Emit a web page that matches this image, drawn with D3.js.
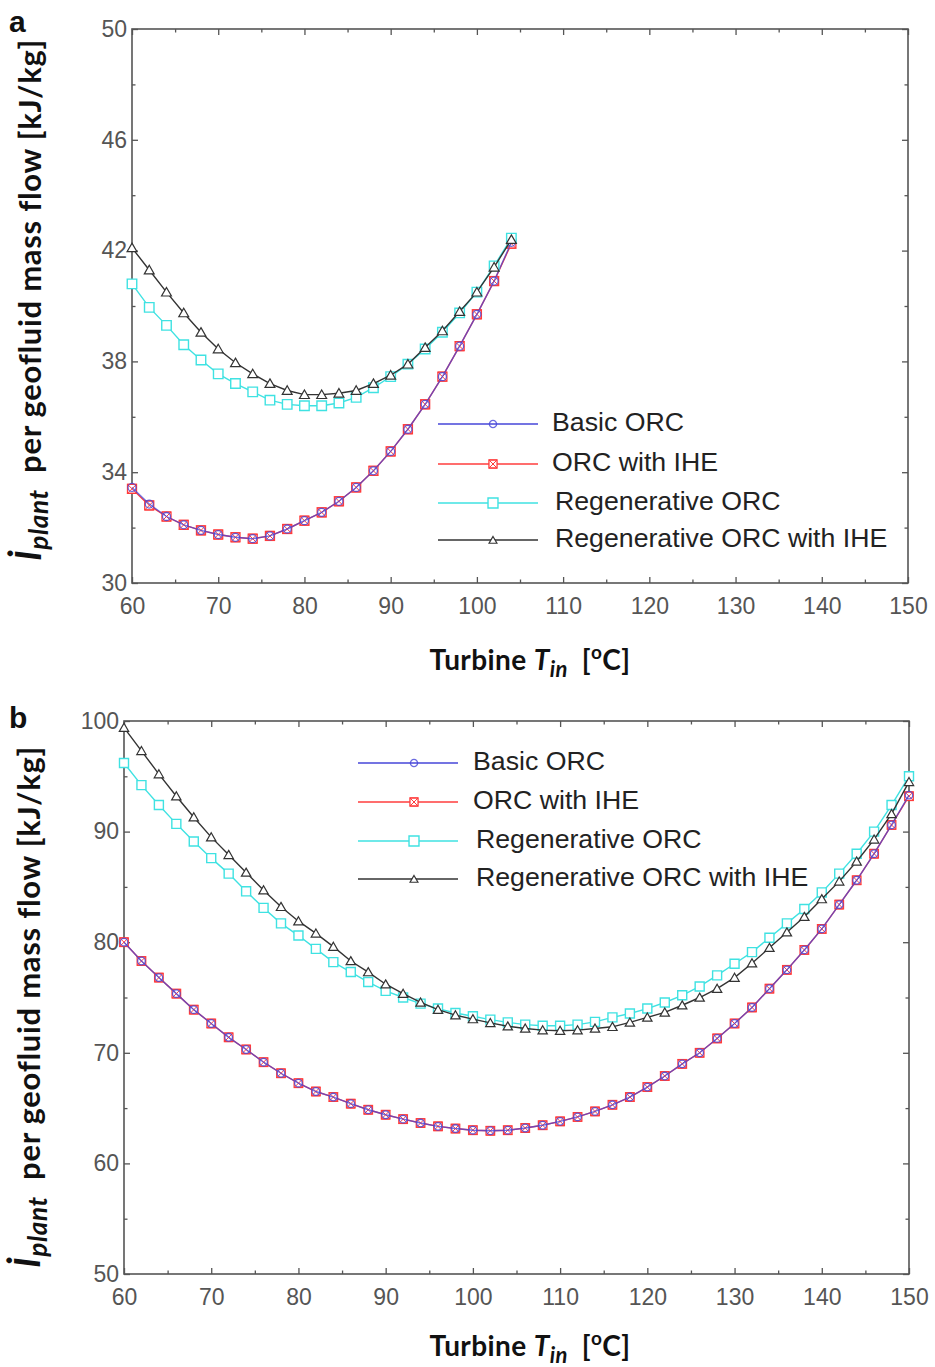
<!DOCTYPE html>
<html><head><meta charset="utf-8">
<script src="https://cdn.jsdelivr.net/npm/d3@7"></script>
<style>body{margin:0;background:#fff}svg{display:block}</style>
</head><body>
<svg id="c" width="935" height="1367"></svg>
<script>
// ---------------- DATA ----------------
const seriesNames = ["Basic ORC", "ORC with IHE", "Regenerative ORC", "Regenerative ORC with IHE"];
const xTicks = [60, 70, 80, 90, 100, 110, 120, 130, 140, 150];
const xMinor = [65, 75, 85, 95, 105, 115, 125, 135, 145];
const yTicksA = [30, 34, 38, 42, 46, 50];
const yMinorA = [32, 36, 40, 44, 48];
const yTicksB = [50, 60, 70, 80, 90, 100];
const yMinorB = [55, 65, 75, 85, 95];

// panel a
const tempA = [60,62,64,66,68,70,72,74,76,78,80,82,84,86,88,90,92,94,96,98,100,102,104];
const basicA = [33.45,32.85,32.4,32.1,31.9,31.75,31.65,31.6,31.7,31.95,32.25,32.55,32.95,33.45,34.05,34.75,35.55,36.45,37.45,38.55,39.7,40.9,42.3];
const iheA = [33.4,32.8,32.4,32.1,31.9,31.75,31.65,31.6,31.7,31.95,32.25,32.55,32.95,33.45,34.05,34.75,35.55,36.45,37.45,38.55,39.7,40.9,42.25];
const regA = [40.8,39.95,39.3,38.6,38.05,37.55,37.2,36.9,36.6,36.45,36.4,36.4,36.5,36.7,37.05,37.45,37.9,38.45,39.05,39.75,40.5,41.45,42.45];
const regIheA = [42.1,41.3,40.5,39.75,39.05,38.45,37.95,37.55,37.2,36.95,36.8,36.8,36.85,36.95,37.2,37.5,37.9,38.5,39.1,39.8,40.5,41.4,42.4];

// panel b
const tempB = [60,62,64,66,68,70,72,74,76,78,80,82,84,86,88,90,92,94,96,98,100,102,104,106,108,110,112,114,116,118,120,122,124,126,128,130,132,134,136,138,140,142,144,146,148,150];
const basicB = [80.0,78.3,76.8,75.35,73.9,72.65,71.4,70.3,69.15,68.15,67.25,66.5,66.0,65.4,64.85,64.4,64.0,63.65,63.35,63.15,63.0,62.95,63.0,63.2,63.45,63.8,64.2,64.7,65.3,66.0,66.9,67.9,69.0,70.0,71.3,72.65,74.1,75.8,77.5,79.3,81.2,83.4,85.6,88.0,90.6,93.3];
const iheB = [80.0,78.3,76.8,75.35,73.9,72.65,71.4,70.3,69.15,68.15,67.25,66.5,66.0,65.4,64.85,64.4,64.0,63.65,63.35,63.15,63.0,62.95,63.0,63.2,63.45,63.8,64.2,64.7,65.3,66.0,66.9,67.9,69.0,70.0,71.3,72.65,74.1,75.8,77.5,79.3,81.2,83.4,85.6,88.0,90.6,93.2];
const regB = [96.2,94.2,92.4,90.7,89.1,87.6,86.2,84.6,83.1,81.7,80.6,79.4,78.2,77.3,76.4,75.6,75.0,74.45,74.0,73.6,73.3,73.0,72.75,72.55,72.45,72.45,72.55,72.8,73.2,73.55,74.0,74.55,75.2,76.0,77.0,78.05,79.1,80.4,81.7,83.0,84.5,86.2,88.0,90.0,92.4,95.0];
const regIheB = [99.4,97.3,95.2,93.2,91.3,89.5,87.9,86.3,84.7,83.2,81.9,80.8,79.6,78.3,77.3,76.2,75.35,74.55,73.9,73.4,73.05,72.7,72.4,72.2,72.05,72.0,72.05,72.2,72.35,72.75,73.2,73.65,74.3,75.0,75.8,76.8,78.1,79.5,80.9,82.3,83.9,85.5,87.3,89.3,91.6,94.5];

// ---------------- STYLE ----------------
const colors = ["#4646d8", "#ff3c3c", "#3fe2e2", "#333333"];
const markerTypes = ["circle", "hourglass", "square", "triangle"];
const TICK_FONT = "'Liberation Sans', Arial, sans-serif";
const LAB_FONT = "Lato, 'Open Sans', sans-serif";
const AX = "#555";

const svg = d3.select("#c");

function drawMarker(sel, type, color, scale) {
  const s = scale || 1;
  if (type === "circle") {
    sel.append("circle").attr("r", 4 * s).attr("fill", "none").attr("stroke", color)
      .attr("stroke-width", 1.3).attr("opacity", 0.8);
  } else if (type === "hourglass") {
    const h = 4.5 * s;
    sel.append("rect").attr("x", -h).attr("y", -h).attr("width", 2 * h).attr("height", 2 * h)
      .attr("fill", "#fff").attr("stroke", color).attr("stroke-width", 1.3);
    sel.append("path").attr("d", `M${-h},${-h}L${h},${-h}L${-h},${h}L${h},${h}Z`)
      .attr("fill", "none").attr("stroke", color).attr("stroke-width", 1);
  } else if (type === "square") {
    sel.append("path").attr("d", d3.symbol(d3.symbolSquare, 90 * s * s)())
      .attr("fill", "#fff").attr("stroke", color).attr("stroke-width", 1.4);
  } else {
    sel.append("path").attr("d", d3.symbol(d3.symbolTriangle, 42 * s * s)())
      .attr("transform", "translate(0,1)")
      .attr("fill", "#fff").attr("stroke", color).attr("stroke-width", 1.2);
  }
}

function drawPanel(p) {
  const x = d3.scaleLinear().domain([60, 150]).range([p.left, p.right]);
  const y = d3.scaleLinear().domain(p.yDomain).range([p.bottom, p.top]);
  const g = svg.append("g");

  g.append("rect").attr("x", p.left).attr("y", p.top)
    .attr("width", p.right - p.left).attr("height", p.bottom - p.top)
    .attr("fill", "none").attr("stroke", AX).attr("stroke-width", 1.6);

  function styleAxis(a, labels) {
    a.select(".domain").remove();
    a.selectAll("line").attr("stroke", AX).attr("stroke-width", 1.3);
    a.selectAll("text").attr("fill", "#555").style("font-family", TICK_FONT).style("font-size", "23px");
    if (!labels) a.selectAll("text").remove();
  }
  styleAxis(g.append("g").attr("transform", `translate(0,${p.bottom})`)
    .call(d3.axisBottom(x).tickValues(xTicks).tickSizeInner(-6).tickSizeOuter(0).tickPadding(15)), true);
  styleAxis(g.append("g").attr("transform", `translate(0,${p.bottom})`)
    .call(d3.axisBottom(x).tickValues(xMinor).tickSizeInner(-3.5).tickSizeOuter(0).tickFormat("")), false);
  styleAxis(g.append("g").attr("transform", `translate(0,${p.top})`)
    .call(d3.axisTop(x).tickValues(xTicks).tickSizeInner(-6).tickSizeOuter(0).tickFormat("")), false);
  styleAxis(g.append("g").attr("transform", `translate(0,${p.top})`)
    .call(d3.axisTop(x).tickValues(xMinor).tickSizeInner(-3.5).tickSizeOuter(0).tickFormat("")), false);
  styleAxis(g.append("g").attr("transform", `translate(${p.left},0)`)
    .call(d3.axisLeft(y).tickValues(p.yTicks).tickSizeInner(-6).tickSizeOuter(0).tickPadding(5)), true);
  styleAxis(g.append("g").attr("transform", `translate(${p.left},0)`)
    .call(d3.axisLeft(y).tickValues(p.yMinor).tickSizeInner(-3.5).tickSizeOuter(0).tickFormat("")), false);
  styleAxis(g.append("g").attr("transform", `translate(${p.right},0)`)
    .call(d3.axisRight(y).tickValues(p.yTicks).tickSizeInner(-6).tickSizeOuter(0).tickFormat("")), false);
  styleAxis(g.append("g").attr("transform", `translate(${p.right},0)`)
    .call(d3.axisRight(y).tickValues(p.yMinor).tickSizeInner(-3.5).tickSizeOuter(0).tickFormat("")), false);

  const order = [1, 0, 2, 3];
  const line = d3.line().x(d => x(d[0])).y(d => y(d[1]));
  const plot = g.append("g");
  order.forEach(i => {
    const pts = p.temps.map((t, k) => [t, p.series[i][k]]);
    plot.append("path").attr("d", line(pts)).attr("fill", "none")
      .attr("stroke", colors[i]).attr("stroke-width", 1.4)
      .attr("opacity", i === 0 ? 0.75 : 1);
    pts.forEach(d => {
      const m = plot.append("g").attr("transform", `translate(${x(d[0])},${y(d[1])})`);
      drawMarker(m, markerTypes[i], colors[i], p.ms);
    });
  });

  const lg = g.append("g");
  seriesNames.forEach((name, i) => {
    const ly = p.legY[i];
    lg.append("line").attr("x1", p.legX1).attr("x2", p.legX2).attr("y1", ly).attr("y2", ly)
      .attr("stroke", colors[i]).attr("stroke-width", 1.6);
    const m = lg.append("g").attr("transform", `translate(${p.legM},${ly})`);
    drawMarker(m, markerTypes[i], colors[i], i === 3 ? 0.8 : (i === 2 ? 1.05 : 0.9));
    lg.append("text").attr("x", i >= 2 ? p.legT + 3 : p.legT).attr("y", ly - 2)
      .attr("dominant-baseline", "central")
      .style("font-family", TICK_FONT).style("font-size", "26.7px").attr("fill", "#222")
      .text(name);
  });

  svg.append("text").attr("x", 9).attr("y", p.letterY).text(p.letter)
    .style("font-family", TICK_FONT).style("font-weight", "bold").style("font-size", "30px").attr("fill", "#111");

  const xl = svg.append("text").attr("x", 530).attr("y", p.xLabY).attr("text-anchor", "middle")
    .style("font-family", LAB_FONT).style("font-weight", "bold").style("font-size", "28px")
    .style("letter-spacing", "0.4px").attr("fill", "#111");
  xl.append("tspan").text("Turbine ");
  xl.append("tspan").text("T").style("font-style", "italic");
  xl.append("tspan").text("in").style("font-style", "italic").style("font-size", "22px").attr("dy", 7);
  xl.append("tspan").text("[").attr("dy", -7).attr("dx", 14);
  xl.append("tspan").text("o").style("font-size", "19px").attr("dy", -11);
  xl.append("tspan").text("C]").attr("dy", 11);

  const yl = svg.append("text").attr("transform", `translate(${p.yLabX},${p.yLabY}) rotate(-90)`)
    .attr("text-anchor", "middle")
    .style("font-family", LAB_FONT).style("font-weight", "bold").style("font-size", "31px")
    .style("letter-spacing", "0.7px").attr("fill", "#111");
  yl.append("tspan").text("İ").style("font-style", "italic").style("font-size", "37px");
  yl.append("tspan").text("plant").style("font-style", "italic").style("font-size", "26px").attr("dy", 7);
  yl.append("tspan").text(" per geofluid mass flow [kJ/kg]").attr("dy", -7).attr("dx", 8);
}

drawPanel({
  left: 132, right: 908, top: 29, bottom: 583,
  yDomain: [30, 50], yTicks: yTicksA, yMinor: yMinorA,
  temps: tempA, series: [basicA, iheA, regA, regIheA], ms: 1,
  legX1: 438, legX2: 538, legM: 493, legT: 552, legY: [424, 464, 503, 540],
  letter: "a", letterY: 32, xLabY: 670, yLabX: 41, yLabY: 300
});
drawPanel({
  left: 124, right: 909, top: 721, bottom: 1274,
  yDomain: [50, 100], yTicks: yTicksB, yMinor: yMinorB,
  temps: tempB, series: [basicB, iheB, regB, regIheB], ms: 0.95,
  legX1: 358, legX2: 458, legM: 414, legT: 473, legY: [763, 802, 841, 879],
  letter: "b", letterY: 728, xLabY: 1356, yLabX: 40, yLabY: 1007
});
</script>
</body></html>
